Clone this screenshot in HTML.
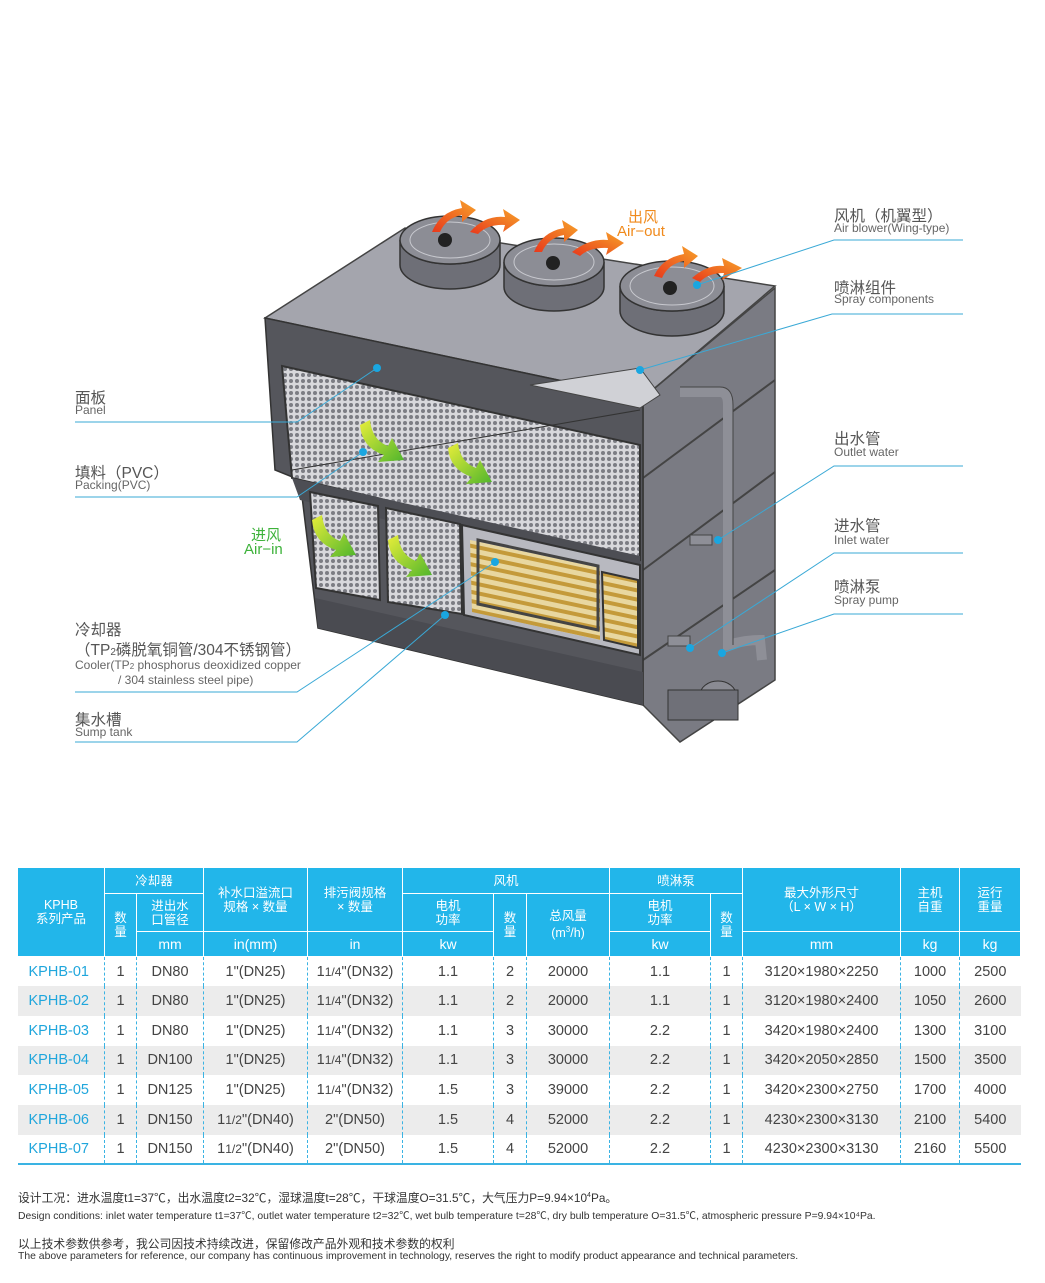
<!DOCTYPE html>
<html><head><meta charset="utf-8">
<style>
*{margin:0;padding:0;box-sizing:border-box}
body{width:1045px;height:1283px;background:#fff;position:relative;overflow:hidden;font-family:"Liberation Sans","Noto Sans CJK SC",sans-serif;color:#555}
.t{position:absolute;white-space:nowrap}
.cn{font-size:15.5px;color:#555}
.en{font-size:12px;color:#666}
table{position:absolute;left:17px;top:867px;width:1003px;border-collapse:collapse;table-layout:fixed}
th{background:#22b6ea;color:#fff;font-size:12.5px;font-weight:normal;border:1.5px solid #fff;line-height:14px;padding:0}
td{font-size:14.5px;color:#444;text-align:center;height:29.7px;border-left:1px dashed #3ab3e3;padding:0}
td:first-child{border-left:none;text-align:left;padding-left:11px;color:#1fa6dc}
tr.g td{background:#ececec}
tbody tr:last-child td{border-bottom:2px solid #3ab3e3}
</style></head><body>

<svg width="1045" height="800" style="position:absolute;left:0;top:0">
<defs>
<pattern id="mesh" width="6" height="6" patternUnits="userSpaceOnUse">
<rect width="6" height="6" fill="#d8d8dc"/><circle cx="3" cy="3" r="2" fill="#7c7d84"/>
</pattern>
<pattern id="coil" width="10" height="9" patternUnits="userSpaceOnUse" patternTransform="rotate(12)">
<rect width="10" height="9" fill="#e8d7a0"/><rect y="2" width="10" height="4" fill="#c49a3a"/>
</pattern>
<linearGradient id="org" x1="0" y1="1" x2="1" y2="0"><stop offset="0" stop-color="#e8391c"/><stop offset="1" stop-color="#f7a22a"/></linearGradient>
<linearGradient id="grn" x1="0" y1="0" x2="1" y2="1"><stop offset="0" stop-color="#e8ee3a"/><stop offset="1" stop-color="#4fb52c"/></linearGradient>
</defs>
<polygon points="265,318 405,228 775,286 643,398" fill="#a4a5ad" stroke="#444" stroke-width="1.5"/>
<polygon points="643,398 775,288 775,680 680,742 643,705" fill="#7a7b83" stroke="#444" stroke-width="1.5"/>
<line x1="643" y1="478" x2="775" y2="380" stroke="#444" stroke-width="2"/>
<line x1="643" y1="570" x2="775" y2="472" stroke="#444" stroke-width="2"/>
<line x1="643" y1="660" x2="775" y2="570" stroke="#444" stroke-width="2"/>
<polygon points="265,318 643,398 643,705 318,628 300,480 275,470" fill="#55565c" stroke="#333" stroke-width="1.5"/>
<polygon points="282,366 640,445 640,560 292,478" fill="url(#mesh)" stroke="#333" stroke-width="2"/>
<line x1="292" y1="470" x2="640" y2="410" stroke="#333"/>
<polygon points="292,478 640,556 640,578 300,500" fill="#4d4e54"/>
<polygon points="310,492 378,506 380,600 316,588" fill="url(#mesh)" stroke="#333" stroke-width="2"/>
<polygon points="386,508 460,524 462,614 388,602" fill="url(#mesh)" stroke="#333" stroke-width="2"/>
<polygon points="462,525 640,565 640,655 464,615" fill="#b8b9c0" stroke="#333" stroke-width="2"/>
<polygon points="470,540 600,568 600,640 472,612" fill="url(#coil)"/>
<polygon points="602,572 638,580 638,648 604,640" fill="url(#coil)" stroke="#333" stroke-width="2"/>
<polygon points="478,540 598,566 598,630 478,604" fill="none" stroke="#444" stroke-width="3"/>
<polygon points="315,598 643,672 643,705 318,628" fill="#4a4b51"/>
<polygon points="530,385 640,368 660,395 640,408" fill="#d0d1d6" stroke="#444"/>
<path d="M680 392 L720 392 Q728 392 728 405 L728 645 Q745 640 760 640 L762 660" fill="none" stroke="#8e8f97" stroke-width="10"/>
<path d="M680 387 L720 387 Q733 387 733 405 L733 645" fill="none" stroke="#444" stroke-width="1"/>
<ellipse cx="718" cy="695" rx="18" ry="14" fill="#8a8b93" stroke="#333"/>
<rect x="668" y="690" width="70" height="30" fill="#6f7078" stroke="#333"/>
<rect x="690" y="535" width="22" height="10" fill="#8e8f97" stroke="#444"/>
<rect x="668" y="636" width="22" height="10" fill="#8e8f97" stroke="#444"/>
<g fill="#6e6f77" stroke="#333" stroke-width="1.5">
<path d="M400 240 a50 24 0 0 0 100 0 v25 a50 24 0 0 1 -100 0z"/>
<ellipse cx="450" cy="240" rx="50" ry="24" fill="#8c8d95"/>
<path d="M504 262 a50 24 0 0 0 100 0 v25 a50 24 0 0 1 -100 0z"/>
<ellipse cx="554" cy="262" rx="50" ry="24" fill="#8c8d95"/>
<path d="M620 286 a52 25 0 0 0 104 0 v25 a52 25 0 0 1 -104 0z"/>
<ellipse cx="672" cy="286" rx="52" ry="25" fill="#8c8d95"/>
</g>
<g stroke="#c8c9cf" stroke-width="1" fill="none">
<ellipse cx="450" cy="240" rx="40" ry="18"/><ellipse cx="554" cy="262" rx="40" ry="18"/><ellipse cx="672" cy="286" rx="42" ry="19"/>
</g>
<circle cx="445" cy="240" r="7" fill="#222"/><circle cx="553" cy="263" r="7" fill="#222"/><circle cx="670" cy="288" r="7" fill="#222"/>
<g fill="url(#org)">
<path d="M432 232 Q440 212 462 208 L460 200 L476 210 L462 222 L462 215 Q446 218 440 232z"/>
<path d="M470 232 Q485 215 505 217 L503 209 L520 220 L503 232 L505 225 Q488 224 478 234z"/>
<path d="M534 252 Q542 232 564 228 L562 220 L578 230 L564 242 L564 235 Q548 238 542 252z"/>
<path d="M572 252 Q590 238 608 240 L606 232 L624 243 L606 255 L608 248 Q590 247 580 256z"/>
<path d="M654 276 Q662 258 684 254 L682 246 L698 256 L684 268 L684 261 Q668 264 662 278z"/>
<path d="M692 278 Q708 264 724 266 L722 258 L742 268 L722 280 L724 273 Q708 273 700 282z"/>
</g>
<g fill="url(#grn)">
<path d="M360 425 L370 420 Q372 440 388 446 L392 438 L404 460 L378 462 L384 455 Q362 448 360 425z"/>
<path d="M448 448 L458 443 Q460 462 476 468 L480 460 L492 482 L466 484 L472 477 Q450 470 448 448z"/>
<path d="M312 520 L322 515 Q324 535 340 541 L344 533 L356 555 L330 557 L336 550 Q314 543 312 520z"/>
<path d="M388 540 L398 535 Q400 555 416 561 L420 553 L432 575 L406 577 L412 570 Q390 563 388 540z"/>
</g>
<g stroke="#3aa9d6" stroke-width="1" fill="none">
<polyline points="75,422 297,422 377,368"/>
<polyline points="75,497 297,497 363,452"/>
<polyline points="75,692 297,692 495,562"/>
<polyline points="75,742 297,742 445,615"/>
<polyline points="963,240 834,240 697,285"/>
<polyline points="963,314 832,314 640,370"/>
<polyline points="963,466 834,466 718,540"/>
<polyline points="963,553 834,553 690,648"/>
<polyline points="963,614 834,614 722,653"/>
</g>
<g fill="#1aa6e0">
<circle cx="377" cy="368" r="4"/><circle cx="363" cy="452" r="4"/><circle cx="495" cy="562" r="4"/><circle cx="445" cy="615" r="4"/>
<circle cx="697" cy="285" r="4"/><circle cx="640" cy="370" r="4"/><circle cx="718" cy="540" r="4"/><circle cx="690" cy="648" r="4"/><circle cx="722" cy="653" r="4"/>
</g>
</svg>

<div class="t cn" style="left:834px;top:204px">风机（机翼型）</div>
<div class="t en" style="left:834px;top:221px">Air blower(Wing-type)</div>
<div class="t cn" style="left:834px;top:276px">喷淋组件</div>
<div class="t en" style="left:834px;top:292px">Spray components</div>
<div class="t cn" style="left:834px;top:427px">出水管</div>
<div class="t en" style="left:834px;top:445px">Outlet water</div>
<div class="t cn" style="left:834px;top:514px">进水管</div>
<div class="t en" style="left:834px;top:533px">Inlet water</div>
<div class="t cn" style="left:834px;top:575px">喷淋泵</div>
<div class="t en" style="left:834px;top:593px">Spray pump</div>
<div class="t" style="left:628px;top:206px;font-size:15px;color:#f08a1c">出风</div>
<div class="t" style="left:617px;top:223px;font-size:15px;color:#f08a1c">Air−out</div>
<div class="t cn" style="left:75px;top:386px">面板</div>
<div class="t en" style="left:75px;top:403px">Panel</div>
<div class="t cn" style="left:75px;top:461px">填料（PVC）</div>
<div class="t en" style="left:75px;top:478px">Packing(PVC)</div>
<div class="t" style="left:251px;top:524px;font-size:15px;color:#3db23a">进风</div>
<div class="t" style="left:244px;top:541px;font-size:15px;color:#3db23a">Air−in</div>
<div class="t cn" style="left:75px;top:618px">冷却器</div>
<div class="t cn" style="left:75px;top:638px">（TP<span style="font-size:10px">2</span>磷脱氧铜管/304不锈钢管）</div>
<div class="t en" style="left:75px;top:658px">Cooler(TP<span style="font-size:8px">2</span> phosphorus deoxidized copper</div>
<div class="t en" style="left:118px;top:673px">/ 304 stainless steel pipe)</div>
<div class="t cn" style="left:75px;top:708px">集水槽</div>
<div class="t en" style="left:75px;top:725px">Sump tank</div>

<table>
<colgroup>
<col style="width:87px"><col style="width:32px"><col style="width:67px"><col style="width:104px"><col style="width:95px"><col style="width:91px"><col style="width:33px"><col style="width:83px"><col style="width:101px"><col style="width:32px"><col style="width:158px"><col style="width:59px"><col style="width:61px">
</colgroup>
<thead>
<tr style="height:26px"><th rowspan="3">KPHB<br>系列产品</th><th colspan="2">冷却器</th><th rowspan="2">补水口溢流口<br>规格 × 数量</th><th rowspan="2">排污阀规格<br>× 数量</th><th colspan="3">风机</th><th colspan="2">喷淋泵</th><th rowspan="2">最大外形尺寸<br>（L × W × H）</th><th rowspan="2">主机<br>自重</th><th rowspan="2">运行<br>重量</th></tr>
<tr style="height:38px"><th rowspan="2">数<br>量</th><th>进出水<br>口管径</th><th>电机<br>功率</th><th rowspan="2">数<br>量</th><th rowspan="2">总风量<br>(m<sup style="font-size:8px">3</sup>/h)</th><th>电机<br>功率</th><th rowspan="2">数<br>量</th></tr>
<tr style="height:25px"><th style="font-size:14px">mm</th><th style="font-size:14px">in(mm)</th><th style="font-size:14px">in</th><th style="font-size:14px">kw</th><th style="font-size:14px">kw</th><th style="font-size:14px">mm</th><th style="font-size:14px">kg</th><th style="font-size:14px">kg</th></tr>
</thead>
<tbody>
<tr><td>KPHB-01</td><td>1</td><td>DN80</td><td>1"(DN25)</td><td>1<small>1/4</small>"(DN32)</td><td>1.1</td><td>2</td><td>20000</td><td>1.1</td><td>1</td><td>3120×1980×2250</td><td>1000</td><td>2500</td></tr>
<tr class="g"><td>KPHB-02</td><td>1</td><td>DN80</td><td>1"(DN25)</td><td>1<small>1/4</small>"(DN32)</td><td>1.1</td><td>2</td><td>20000</td><td>1.1</td><td>1</td><td>3120×1980×2400</td><td>1050</td><td>2600</td></tr>
<tr><td>KPHB-03</td><td>1</td><td>DN80</td><td>1"(DN25)</td><td>1<small>1/4</small>"(DN32)</td><td>1.1</td><td>3</td><td>30000</td><td>2.2</td><td>1</td><td>3420×1980×2400</td><td>1300</td><td>3100</td></tr>
<tr class="g"><td>KPHB-04</td><td>1</td><td>DN100</td><td>1"(DN25)</td><td>1<small>1/4</small>"(DN32)</td><td>1.1</td><td>3</td><td>30000</td><td>2.2</td><td>1</td><td>3420×2050×2850</td><td>1500</td><td>3500</td></tr>
<tr><td>KPHB-05</td><td>1</td><td>DN125</td><td>1"(DN25)</td><td>1<small>1/4</small>"(DN32)</td><td>1.5</td><td>3</td><td>39000</td><td>2.2</td><td>1</td><td>3420×2300×2750</td><td>1700</td><td>4000</td></tr>
<tr class="g"><td>KPHB-06</td><td>1</td><td>DN150</td><td>1<small>1/2</small>"(DN40)</td><td>2"(DN50)</td><td>1.5</td><td>4</td><td>52000</td><td>2.2</td><td>1</td><td>4230×2300×3130</td><td>2100</td><td>5400</td></tr>
<tr><td>KPHB-07</td><td>1</td><td>DN150</td><td>1<small>1/2</small>"(DN40)</td><td>2"(DN50)</td><td>1.5</td><td>4</td><td>52000</td><td>2.2</td><td>1</td><td>4230×2300×3130</td><td>2160</td><td>5500</td></tr>
</tbody>
</table>

<div class="t" style="left:18px;top:1189px;font-size:11.8px;color:#333">设计工况：进水温度t1=37℃，出水温度t2=32℃，湿球温度t=28℃，干球温度O=31.5℃，大气压力P=9.94×10<sup style="font-size:7px">4</sup>Pa。</div>
<div class="t" style="left:18px;top:1207px;font-size:10.4px;color:#333">Design conditions: inlet water temperature t1=37℃, outlet water temperature t2=32℃, wet bulb temperature t=28℃,  dry bulb temperature O=31.5℃, atmospheric pressure P=9.94×10⁴Pa.</div>
<div class="t" style="left:18px;top:1235px;font-size:11.8px;color:#333">以上技术参数供参考，我公司因技术持续改进，保留修改产品外观和技术参数的权利</div>
<div class="t" style="left:18px;top:1251px;font-size:10.4px;color:#333">The above parameters for reference, our company has continuous improvement in technology, reserves the right to modify product appearance and technical parameters.</div>
</body></html>
